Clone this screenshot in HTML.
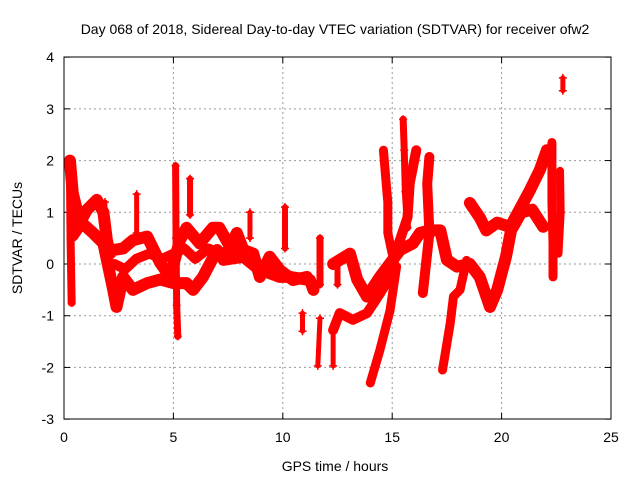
<!DOCTYPE html>
<html><head><meta charset="utf-8"><style>
body{margin:0;background:#fff;}
svg{display:block;font-family:"Liberation Sans",sans-serif;}
</style></head><body>
<svg id="chart" width="640" height="480">
<text x="335" y="34" font-size="14" text-anchor="middle">Day 068 of 2018, Sidereal Day-to-day VTEC variation (SDTVAR) for receiver ofw2</text>
<text x="335" y="471" font-size="14" text-anchor="middle">GPS time / hours</text>
<text x="22" y="238" font-size="14" text-anchor="middle" transform="rotate(-90 22 238)">SDTVAR / TECUs</text>
<g id="grid"></g>
<g id="ticks"></g>
<g id="series"></g>
<rect x="64" y="57" width="547" height="362" fill="none" stroke="#000" stroke-width="1"/>
</svg>
<script>
const xTicks=[0,5,10,15,20,25];
const yTicks=[-3,-2,-1,0,1,2,3,4];
const aX=[0.27,0.4,0.73,1.05,1.5,1.8,1.96,2.1,2.25,2.7,3.15,3.8,4.4,4.85,5.3,5.6,6.2,6.8,7.1,7.6,7.9,8.2,8.65,8.95,9.4,9.87,10.47,11.1];
const aY=[2.0,1.37,0.8,1.05,1.24,1.0,0.46,0.2,0.27,0.3,0.46,0.53,0.02,-0.25,0.46,0.7,0.4,0.7,0.7,0.33,0.6,0.27,0.2,-0.25,0.14,-0.12,-0.31,-0.25];
const bX=[0.4,0.8,1.33,1.8,2.25,2.4,2.7,3.15,3.8,4.4,5.0,5.6,5.9,6.35,7.0,7.3,8.2,8.9,9.87,10.33,11.24,11.4];
const bY=[0.55,0.8,0.6,0.4,-0.5,-0.83,-0.25,-0.5,-0.37,-0.3,-0.37,-0.37,-0.5,-0.25,0.27,0.08,0.14,-0.1,-0.25,-0.25,-0.31,-0.5];
const b2X=[2.3,2.8,3.3,3.9,4.5,5.0,5.5,6.0,6.6,7.2,7.8,8.4];
const b2Y=[0.0,-0.1,0.1,0.2,0.1,0.2,0.3,0.1,0.3,0.2,0.35,0.1];
const cX=[12.3,13.07,13.4,13.85,14.44,15.36,15.95,16.27,16.7,17.2,17.5,17.96,18.55,19.0,19.47,19.8,20.2,20.5,21.3,21.75,22.07];
const cY=[0.0,0.2,-0.3,-0.63,-0.25,0.27,0.4,0.6,0.65,0.65,0.08,-0.05,0.0,-0.25,-0.83,-0.5,0.14,0.8,1.43,1.82,2.2];
const dX=[12.3,12.6,13.2,13.85,14.44,14.9,15.2,15.7,15.8,16.1];
const dY=[-1.28,-0.95,-1.08,-0.95,-0.57,-0.25,0.27,0.9,1.56,2.2];
const eX=[14.0,14.44,14.9,15.2];
const eY=[-2.3,-1.66,-0.9,-0.05];
const fX=[14.6,14.75,14.8,14.8,15.0];
const fY=[2.2,1.43,1.2,0.6,0.2];
const gX=[15.5,15.55,15.6,15.7];
const gY=[2.8,2.2,1.4,0.7];
const hX=[16.7,16.6,16.7,16.4];
const hY=[2.07,1.55,0.6,-0.56];
const iX=[17.3,17.65,17.8,18.1,18.4];
const iY=[-2.05,-1.15,-0.63,-0.5,0.07];
const jX=[18.55,19.0,19.3,19.8,20.5,20.9,21.4,21.9];
const jY=[1.18,0.9,0.65,0.8,0.7,1.0,1.05,0.72];
const kX=[22.3,22.3,22.35,22.35];
const kY=[2.35,1.2,0.4,-0.25];
const lX=[22.67,22.7,22.6];
const lY=[1.8,1.0,0.2];
const mX=[22.8,22.8];
const mY=[3.6,3.35];
const n1X=[0.27,0.3,0.35];const n1Y=[1.8,0.5,-0.75];
const n2X=[5.1,5.12,5.15,5.2];const n2Y=[1.9,0.5,-0.8,-1.4];
const n3X=[5.76,5.76];const n3Y=[1.65,0.95];
const n4X=[3.32,3.32];const n4Y=[1.35,0.6];
const n5X=[1.87,1.87];const n5Y=[1.2,0.7];
const n6X=[8.5,8.5];const n6Y=[1.0,0.5];
const n7X=[10.1,10.1];const n7Y=[1.1,0.3];
const n8X=[11.7,11.7];const n8Y=[0.5,-0.4];
const n9X=[12.5,12.5];const n9Y=[0.1,-0.4];
const n10X=[10.9,10.9];const n10Y=[-0.95,-1.3];
const n11X=[11.7,11.6];const n11Y=[-1.05,-1.97];
const n12X=[12.3,12.3];const n12Y=[-1.3,-1.97];
const X=v=>64+v*547/25, Y=v=>264-v*362/7;
const NS="http://www.w3.org/2000/svg";
const grid=document.getElementById('grid'),ticks=document.getElementById('ticks'),ser=document.getElementById('series');
function mk(tag,at,parent){const e=document.createElementNS(NS,tag);for(const k in at)e.setAttribute(k,at[k]);parent.appendChild(e);return e;}
xTicks.forEach(t=>{const x=X(t);
 if(t>0&&t<25){const g=mk('line',{x1:x,y1:57,x2:x,y2:419,stroke:'#999','stroke-dasharray':'2,3'},grid);
 
 }
 mk('line',{x1:x,y1:419,x2:x,y2:413,stroke:'#000'},ticks);mk('line',{x1:x,y1:57,x2:x,y2:63,stroke:'#000'},ticks);
 const l=mk('text',{x:x,y:442,'font-size':14,'text-anchor':'middle'},ticks);l.textContent=t;
 
 });
yTicks.forEach(t=>{const y=Y(t);
 if(t>-3&&t<4){const g=mk('line',{x1:64,y1:y,x2:611,y2:y,stroke:'#999','stroke-dasharray':'2,3'},grid);
 
 }
 mk('line',{x1:64,y1:y,x2:70,y2:y,stroke:'#000'},ticks);mk('line',{x1:611,y1:y,x2:605,y2:y,stroke:'#000'},ticks);
 const l=mk('text',{x:54,y:y+5,'font-size':14,'text-anchor':'end'},ticks);l.textContent=t;
 
 });
const tracks=[[aX,aY,12],[bX,bY,12],[b2X,b2Y,10],[cX,cY,12],[dX,dY,10],[eX,eY,9],[fX,fY,9],[gX,gY,7],[hX,hY,10],[iX,iY,9],[jX,jY,12],[kX,kY,9],[lX,lY,8],[mX,mY,5],
 [n1X,n1Y,8],[n2X,n2Y,7],[n3X,n3Y,6],[n4X,n4Y,5],[n5X,n5Y,5],[n6X,n6Y,5],[n7X,n7Y,6],[n8X,n8Y,7],[n9X,n9Y,6],[n10X,n10Y,5],[n11X,n11Y,5],[n12X,n12Y,5]];
tracks.forEach(([xs,ys,w])=>{
 const pts=xs.map((v,j)=>X(v)+','+Y(ys[j])).join(' ');
 const pl=mk('polyline',{points:pts,fill:'none',stroke:'#f00','stroke-width':w,'stroke-linejoin':'round','stroke-linecap':'round'},ser);
 
 
 xs.forEach((v,j)=>{const x=X(v),y=Y(ys[j]);
  const p=mk('path',{d:`M${x-4},${y}h8M${x},${y-4}v8`,stroke:'#f00','stroke-width':1.5},ser);
  
  });
});
</script>
</body></html>
